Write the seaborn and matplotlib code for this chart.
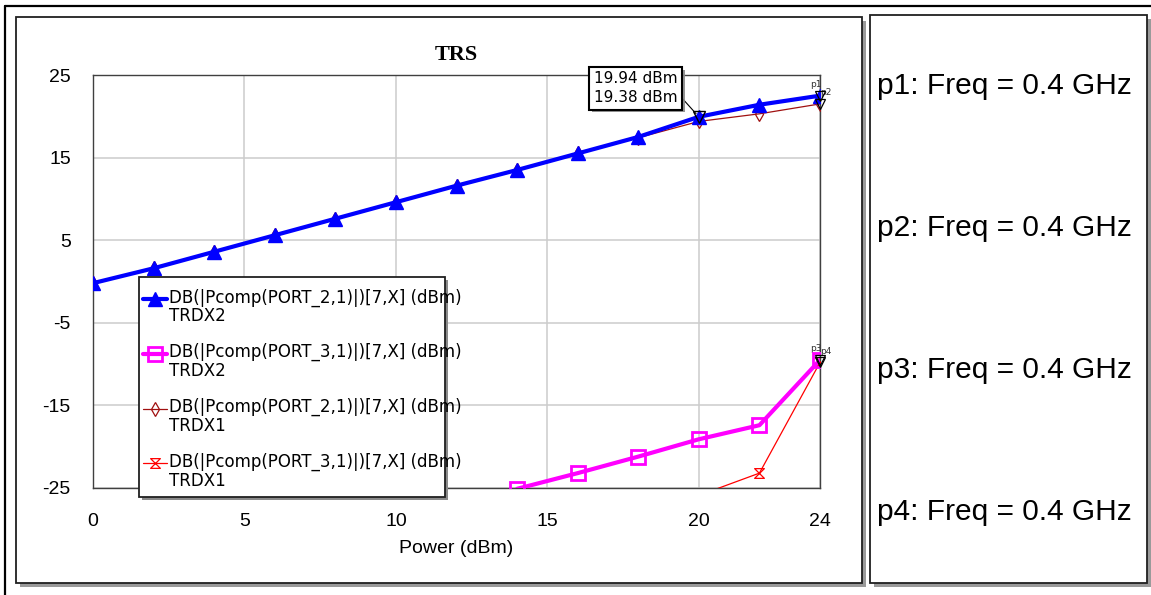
import matplotlib
matplotlib.use("Agg")
import matplotlib.pyplot as plt
import numpy as np
import pandas as pd
import seaborn as sns
from matplotlib.patches import Rectangle
from matplotlib.lines import Line2D
from matplotlib.path import Path
from matplotlib.legend_handler import HandlerLine2D
import matplotlib.patheffects as pe

# ---- data -------------------------------------------------------------
power = [0, 2, 4, 6, 8, 10, 12, 14, 16, 18, 20, 22, 24]
port2_trdx2 = [-0.2, 1.6, 3.6, 5.6, 7.6, 9.6, 11.6, 13.5, 15.5, 17.5, 19.94, 21.4, 22.5]
port2_trdx1 = [-0.2, 1.6, 3.6, 5.6, 7.6, 9.6, 11.6, 13.5, 15.5, 17.4, 19.38, 20.3, 21.5]
power_hi = [14, 16, 18, 20, 22, 24]
port3_trdx2 = [-25.1, -23.2, -21.2, -19.1, -17.4, -9.5]
power_top = [20, 22, 24]
port3_trdx1 = [-25.9, -23.2, -9.8]

series_names = [
    "DB(|Pcomp(PORT_2,1)|)[7,X] (dBm)\nTRDX2",
    "DB(|Pcomp(PORT_3,1)|)[7,X] (dBm)\nTRDX2",
    "DB(|Pcomp(PORT_2,1)|)[7,X] (dBm)\nTRDX1",
    "DB(|Pcomp(PORT_3,1)|)[7,X] (dBm)\nTRDX1",
]
marker_labels = ["p1", "p2", "p3", "p4"]
marker_text = "p{}: Freq = 0.4 GHz"
x_ticks = [0, 5, 10, 15, 20, 24]
y_ticks = [-25, -15, -5, 5, 15, 25]

# ---- figure -----------------------------------------------------------
W, H = 1151, 595
sns.set_style("white")
plt.rcParams["font.family"] = ["Liberation Sans", "DejaVu Sans"]
plt.rcParams["axes.unicode_minus"] = False
plt.rcParams["text.color"] = "black"
plt.rcParams["axes.labelcolor"] = "black"

fig = plt.figure(figsize=(W / 100, H / 100), dpi=100)
fig.patch.set_facecolor("white")


def fx(px):
    return px / W


def fy(py):
    return 1 - py / H


def panel(x0, y0, x1, y1, z=-19):
    # drop shadow then white framed panel
    fig.patches.append(Rectangle((fx(x0 + 4), fy(y1 + 4)), (x1 - x0) / W, (y1 - y0) / H,
                                 transform=fig.transFigure, facecolor="#9a9a9a",
                                 edgecolor="none", zorder=z - 1))
    fig.patches.append(Rectangle((fx(x0), fy(y1)), (x1 - x0) / W, (y1 - y0) / H,
                                 transform=fig.transFigure, facecolor="white",
                                 edgecolor="#202020", lw=1.3, zorder=z))


# outer frame
fig.lines.append(Line2D([fx(5), fx(5)], [fy(6), 0], transform=fig.transFigure,
                        color="black", lw=1.6, zorder=-25))
fig.lines.append(Line2D([fx(5), 1], [fy(6), fy(6)], transform=fig.transFigure,
                        color="black", lw=1.6, zorder=-25))
panel(16, 17, 862, 583)
panel(870, 15, 1147, 583)

ax = fig.add_axes([fx(93), fy(488), (820 - 93) / W, (488 - 75) / H])
ax.set_facecolor("white")

hourglass = Path([(-1, 1), (1, 1), (-1, -1), (1, -1), (-1, 1)],
                 [Path.MOVETO, Path.LINETO, Path.LINETO, Path.LINETO, Path.CLOSEPOLY])

sns.lineplot(x=power, y=port2_trdx1, ax=ax, color="#a01010", lw=0.9,
             marker="d", markersize=7, mfc="none", mec="#a01010", mew=0.9,
             label=series_names[2], sort=False, errorbar=None, zorder=3)
sns.lineplot(x=power_top, y=port3_trdx1, ax=ax, color="#ff0000", lw=0.9,
             marker=hourglass, markersize=7, mfc="none", mec="#ff0000", mew=0.9,
             label=series_names[3], sort=False, errorbar=None, zorder=3)
sns.lineplot(x=power, y=port2_trdx2, ax=ax, color="#0000ff", lw=3.0,
             marker="^", markersize=10, mfc="#0000ff", mec="#0000ff", mew=1,
             label=series_names[0], sort=False, errorbar=None, zorder=4)
sns.lineplot(x=power_hi, y=port3_trdx2, ax=ax, color="#ff00ff", lw=3.0,
             marker="s", markersize=10, mfc="none", mec="#ff00ff", mew=2,
             label=series_names[1], sort=False, errorbar=None, zorder=4)

ax.set_xlim(0, 24)
ax.set_ylim(-25, 25)
ax.set_xticks(x_ticks)
ax.set_yticks(y_ticks)
ax.grid(True, color="#cccccc", lw=1.1)
ax.tick_params(length=0, labelsize=14, colors="black")
ax.tick_params(axis="x", pad=18)
ax.tick_params(axis="y", pad=16)
for s in ax.spines.values():
    s.set_color("#404040")
    s.set_linewidth(1.0)
ax.set_xlabel("Power (dBm)", fontsize=14, labelpad=7, color="black")
ax.set_ylabel("")
ax.set_title("TRS", fontsize=16, fontweight="bold", family="Liberation Serif",
             pad=11, color="black")

# markers p1..p4 at the right end, p-marker at 20 dBm
end_vals = [port2_trdx2[-1], port2_trdx1[-1], port3_trdx2[-1], port3_trdx1[-1]]
ax.plot([power[-1]] * 4, end_vals, ls="none", marker="v", ms=7, mfc="none",
        mec="black", mew=0.9, zorder=6, clip_on=False)
for lab, v, ha, dx in zip(marker_labels, end_vals, ["right", "left", "right", "left"],
                          [1, 0, 1, 0]):
    ax.annotate(lab, (power[-1], v), xytext=(dx, 5), textcoords="offset points",
                ha=ha, va="bottom", fontsize=6.5, color="#333333",
                family="DejaVu Sans", annotation_clip=False)

i20 = power.index(20)
ax.plot([power[i20]], [port2_trdx2[i20]], ls="none", marker="v", ms=8, mfc="none",
        mec="black", mew=1, zorder=6)
ann = ax.annotate(f"{port2_trdx2[i20]:.2f} dBm\n{port2_trdx1[i20]:.2f} dBm",
                  xy=(power[i20], port2_trdx2[i20]), xytext=(594, H - 105),
                  textcoords="figure pixels", ha="left", va="bottom",
                  fontsize=11, family="DejaVu Sans", linespacing=1.3,
                  bbox=dict(boxstyle="square,pad=0.3", fc="white", ec="black", lw=1.5),
                  arrowprops=dict(arrowstyle="-", color="black", lw=0.8,
                                  relpos=(1.0, 0.35), shrinkA=0, shrinkB=3),
                  zorder=8)
ann.get_bbox_patch().set_path_effects([pe.withSimplePatchShadow(offset=(2, -2),
                                                                 shadow_rgbFace="#888888",
                                                                 alpha=0.9)])


class FirstLineHandler(HandlerLine2D):
    """Line handle raised to sit beside the first line of a two-line label."""

    def __init__(self, shift, **kw):
        super().__init__(**kw)
        self.shift = shift

    def create_artists(self, legend, orig_handle, xdescent, ydescent, width,
                       height, fontsize, trans):
        arts = super().create_artists(legend, orig_handle, xdescent, ydescent,
                                      width, height, fontsize, trans)
        for a in arts:
            a.set_ydata([y + self.shift for y in a.get_ydata()])
        return arts


# legend box
handles, labels = ax.get_legend_handles_labels()
order = [labels.index(n) for n in series_names]
fig.patches.append(Rectangle((fx(142), fy(500)), (448 - 142) / W, (500 - 280) / H,
                             transform=fig.transFigure, facecolor="#8a8a8a",
                             edgecolor="none", zorder=5))
fig.patches.append(Rectangle((fx(139), fy(497)), (445 - 139) / W, (497 - 277) / H,
                             transform=fig.transFigure, facecolor="white",
                             edgecolor="#202020", lw=1.3, zorder=5))
sel = [handles[i] for i in order]
leg = ax.legend(sel, [labels[i] for i in order],
                loc="upper left", bbox_to_anchor=(fx(140), fy(285)),
                bbox_transform=fig.transFigure, frameon=False,
                prop={"family": "DejaVu Sans", "size": 12}, labelcolor="black",
                handlelength=1.4, handletextpad=0.15, labelspacing=1.07,
                borderpad=0.2, borderaxespad=0, numpoints=1,
                handler_map={h: FirstLineHandler(6.5) for h in sel})
for t in leg.get_texts():
    t.set_linespacing(1.05)
leg.set_zorder(6)
leg.remove()
fig.legends.append(leg)
leg.set_figure(fig)

# marker readouts panel
for k, yc in enumerate([86, 228, 370, 512]):
    fig.text(fx(877), fy(yc), marker_text.format(k + 1), ha="left", va="center",
             fontsize=21.5, family="Liberation Sans", color="black")

fig.savefig("out.png", dpi=100)
